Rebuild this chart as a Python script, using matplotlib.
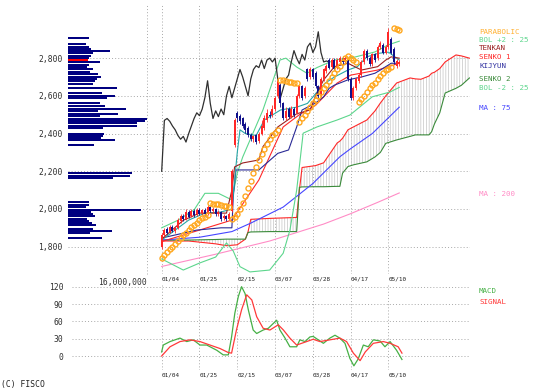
import numpy as np
import matplotlib
matplotlib.use("Agg")
import matplotlib.pyplot as plt

W, H = 547, 389
MONO = "DejaVu Sans Mono"

# ---- daily candles (index 0 = 01/04) ----
opens = [1800, 1860, 1895, 1875, 1905, 1885, 1900, 1935, 1965, 1945,
         1985, 1965, 1990, 1975, 1995, 1980, 1995, 1975, 2010, 1990,
         2000, 1975, 1985, 1950, 1965, 1945, 1990, 2340, 2510, 2495,
         2480, 2450, 2430, 2395, 2370, 2390, 2360, 2400, 2430, 2470,
         2500, 2500, 2530, 2600, 2660, 2560, 2480, 2530, 2490, 2530,
         2510, 2600, 2650, 2600, 2740, 2700, 2740, 2720, 2650, 2600,
         2690, 2730, 2790, 2755, 2790, 2750, 2780, 2800, 2780, 2790,
         2690, 2590, 2640, 2680, 2710, 2780, 2840, 2800, 2770, 2820,
         2800, 2860, 2870, 2830, 2860, 2900, 2850, 2760, 2770]
closes = [1860, 1890, 1875, 1905, 1885, 1900, 1940, 1965, 1945, 1985,
          1960, 1990, 1970, 1995, 1975, 1995, 1975, 2010, 1990, 2000,
          1975, 1985, 1945, 1965, 1945, 1975, 2200, 2470, 2480, 2465,
          2440, 2420, 2390, 2370, 2385, 2355, 2400, 2440, 2480, 2510,
          2495, 2530, 2590, 2680, 2560, 2480, 2520, 2490, 2530, 2500,
          2600, 2650, 2590, 2640, 2690, 2740, 2700, 2650, 2600, 2690,
          2740, 2760, 2750, 2790, 2745, 2790, 2800, 2780, 2800, 2690,
          2590, 2640, 2690, 2710, 2780, 2840, 2800, 2770, 2820, 2790,
          2860, 2880, 2830, 2860, 2940, 2830, 2780, 2785, 2780]
highs = [1870, 1900, 1905, 1915, 1915, 1910, 1950, 1975, 1975, 2000,
         1995, 2000, 2000, 2005, 2005, 2000, 2005, 2020, 2015, 2010,
         2005, 1995, 1990, 1975, 1970, 1985, 2210, 2480, 2520, 2505,
         2490, 2460, 2440, 2405, 2395, 2400, 2410, 2470, 2500, 2530,
         2520, 2550, 2600, 2690, 2670, 2570, 2540, 2540, 2545, 2540,
         2610, 2660, 2660, 2650, 2750, 2755, 2750, 2730, 2660, 2700,
         2750, 2770, 2800, 2800, 2800, 2800, 2810, 2810, 2810, 2795,
         2700, 2650, 2700, 2720, 2790, 2850, 2850, 2810, 2830, 2830,
         2870, 2890, 2880, 2870, 2960, 2910, 2860, 2795, 2790]
lows = [1790, 1850, 1865, 1870, 1880, 1875, 1895, 1925, 1935, 1940,
        1950, 1960, 1960, 1965, 1970, 1970, 1965, 1970, 1980, 1980,
        1965, 1965, 1935, 1940, 1935, 1940, 1985, 2330, 2460, 2450,
        2430, 2405, 2380, 2360, 2355, 2345, 2350, 2390, 2420, 2460,
        2480, 2490, 2520, 2590, 2540, 2470, 2470, 2480, 2485, 2490,
        2505, 2590, 2580, 2590, 2680, 2690, 2690, 2640, 2590, 2595,
        2680, 2720, 2740, 2750, 2735, 2740, 2770, 2770, 2770, 2680,
        2580, 2580, 2630, 2670, 2700, 2770, 2790, 2760, 2760, 2780,
        2790, 2850, 2820, 2820, 2850, 2820, 2770, 2750, 2760]

# ---- indicator lines (day index, price) ----
tenkan_i = [0, 8, 14, 24, 26, 27, 30, 36, 37.5, 43, 45, 50, 55, 57, 60, 64, 69, 74, 80, 83, 85, 88]
tenkan_v = [1840, 1940, 1978, 1978, 2100, 2223, 2244, 2260, 2330, 2435, 2455, 2505,
            2525, 2600, 2685, 2755, 2773, 2737, 2755, 2790, 2807, 2800]
kijun_i = [0, 5, 13, 22, 26, 26.5, 27.5, 36, 43, 47, 50, 52, 57, 60, 62, 64, 69, 74, 79, 81, 85, 88]
kijun_v = [1846, 1862, 1888, 1900, 1900, 2063, 2207, 2207, 2295, 2313, 2435, 2525,
           2562, 2595, 2640, 2657, 2685, 2700, 2720, 2737, 2773, 2773]
teal_i = [0, 10, 16, 22, 26, 27, 28, 29, 31, 35, 38, 44, 50, 54, 57.5, 60.6, 64, 69, 72.5, 76, 80, 84, 88]
teal_v = [1835, 1941, 1978, 1984, 2000, 2150, 2300, 2420, 2400, 2390, 2472, 2525,
          2540, 2560, 2620, 2668, 2700, 2737, 2755, 2807, 2825, 2832, 2790]
redb_i = [0, 14, 26, 36, 45, 51, 57, 65, 70, 80, 88]
redb_v = [1827, 1888, 1941, 2154, 2435, 2500, 2550, 2668, 2710, 2737, 2773]
bolu_i = [0, 6, 12, 16, 21, 26, 28, 30, 37.5, 43.8, 46, 50, 53.8, 57.5, 64, 71.6, 79, 83.8, 88]
bolu_v = [1900, 1940, 1995, 2083, 2083, 2048, 2190, 2275, 2525, 2790, 2800, 2753,
          2720, 2750, 2790, 2806, 2833, 2870, 2890]
bold_i = [0, 8, 14, 20, 24, 26.5, 29, 32.7, 40, 45, 47.5, 50, 52.4, 57.5, 65, 69.7, 78, 84.5, 88]
bold_v = [1735, 1676, 1713, 1745, 1820, 1777, 1694, 1666, 1676, 1765, 1888, 2100,
          2402, 2435, 2472, 2498, 2595, 2620, 2645]
ma75_i = [0, 14, 26, 33, 45, 56, 66, 70, 78, 88]
ma75_v = [1835, 1850, 1880, 1925, 2010, 2135, 2277, 2320, 2400, 2540]
ma200_i = [0, 20, 40, 60, 70, 80, 88]
ma200_v = [1695, 1760, 1830, 1920, 1975, 2035, 2085]

# leading spans (shared index grid)
span_i = [0, 10, 20, 24, 28, 31, 32, 33, 40, 50, 51, 52, 57, 60, 65, 66, 67, 69, 71, 76,
          79, 81, 83, 87, 92, 94, 96, 99, 100, 101, 103, 105, 109, 111, 114]
senkou1 = [1830, 1830, 1815, 1805, 1810, 1840, 1880, 1945, 1950, 1955, 2100, 2220, 2230,
           2245, 2350, 2360, 2375, 2420, 2435, 2472, 2520, 2562, 2600, 2668, 2695, 2690,
           2688, 2705, 2720, 2725, 2745, 2780, 2817, 2812, 2800]
senkou2 = [1835, 1835, 1838, 1840, 1840, 1840, 1875, 1878, 1880, 1880, 2115, 2117, 2118,
           2118, 2120, 2120, 2190, 2225, 2234, 2250, 2276, 2300, 2348, 2366, 2385, 2393,
           2393, 2393, 2410, 2450, 2510, 2615, 2640, 2656, 2695]

# parabolic SAR, one value per day
psar = [1740, 1755, 1770, 1785, 1800, 1815, 1830, 1845, 1860, 1875, 1890, 1903, 1915, 1928,
        1940, 1950, 1960, 1968,
        2030, 2028, 2026, 2024, 2021, 2018, 2015, 2012,
        1945, 1955, 1975, 2000, 2030, 2070, 2110, 2150, 2190, 2225, 2260, 2290, 2320, 2345,
        2370, 2390, 2405, 2420,
        2685, 2682, 2679, 2676, 2673, 2670, 2667,
        2460, 2480, 2500, 2520, 2540, 2560, 2580, 2600, 2620, 2640, 2660, 2680, 2700, 2720,
        2740, 2760, 2780, 2800,
        2810, 2800, 2790, 2780,
        2570, 2585, 2600, 2620, 2640, 2655, 2670, 2690, 2705, 2720, 2735, 2745, 2755,
        2960, 2955, 2950]

# volume by price (millions of shares)
vp_price = [2905, 2875, 2861, 2850, 2838, 2826, 2813, 2803, 2778, 2764, 2752, 2741, 2728, 2716,
            2702, 2690, 2677, 2665, 2643, 2617, 2600, 2587, 2561, 2546, 2532, 2520, 2506, 2493,
            2479, 2467, 2455, 2442, 2430, 2400, 2389, 2378, 2368, 2340, 2189, 2177, 2166, 2036,
            2023, 2011, 1996, 1984, 1973, 1963, 1949, 1938, 1927, 1915, 1895, 1885, 1873, 1848]
vp_vol = [4.3, 3.6, 4.2, 4.6, 8.5, 5.1, 4.6, 4.2, 6.5, 4.3, 3.9, 5.1, 4.4, 6.0, 6.8, 5.9, 5.5,
          5.1, 10.0, 7.0, 9.5, 7.9, 6.5, 7.5, 11.8, 6.1, 10.2, 6.5, 16.3, 15.7, 14.1, 14.0, 7.2,
          7.3, 7.1, 6.8, 9.5, 5.3, 13.0, 12.6, 9.2, 4.3, 4.3, 3.6, 14.8, 4.6, 5.1, 5.5, 3.9, 4.2,
          4.8, 5.7, 5.1, 8.9, 4.4, 7.0]
cur_price = 2790
cur_vol = 4.0

# MACD panel
macd_i = [0, 0.6, 3.1, 6.8, 9.3, 11.7, 14.2, 16.7, 20.4, 22.8, 24.7, 25.9, 27.1, 28.4, 29.6,
          30.9, 32.1, 33.9, 35.2, 37.6, 39.5, 42.6, 43.8, 45.7, 47.5, 50, 51.2, 53.1, 54.9,
          56.1, 59.9, 62.3, 64.2, 66, 67.9, 69.7, 71.2, 72.8, 74.7, 76.5, 78.4, 80.9, 82.7,
          84.6, 87, 89]
macd_v = [7, 19, 25, 31, 25, 28, 19, 19, 10, 2, 2, 33, 74, 103, 120, 108, 80, 45, 39, 45, 48,
          62, 45, 31, 16, 16, 28, 25, 33, 34, 22, 31, 36, 31, 22, -4, -17, -5, 19, 16, 28, 26,
          16, 25, 10, -6]
sig_i = [0, 3.1, 6.8, 10.5, 14.2, 17.9, 21.6, 24.7, 25.9, 27.7, 29.6, 31.5, 33.4, 35.2, 37.6,
         40.1, 43.2, 45.1, 47.5, 50, 53.7, 56.1, 58.6, 62.3, 66, 68.5, 71, 73.5, 75.4, 78.4,
         82.1, 84.6, 87.6, 89]
sig_v = [0, 16, 25, 28, 25, 19, 13, 6, 5, 45, 80, 106, 97, 68, 48, 45, 54, 45, 31, 19, 25, 29,
         25, 28, 31, 25, 5, -8, 7, 22, 25, 22, 16, 5]

date_idx = [0, 14, 28, 42, 56, 70, 84]
date_lbl = ["01/04", "01/25", "02/15", "03/07", "03/28", "04/17", "05/10"]
price_ticks = [1800, 2000, 2200, 2400, 2600, 2800]
macd_ticks = [0, 30, 60, 90, 120]

RED = "#ff2828"
NAVY = "#10108a"
BOL = "#5cd68c"
GRID = dict(color="#a8a8a8", lw=0.7, ls=(0, (1, 2.2)))


def rect(l, t, r, b):
    return [l / W, 1 - b / H, (r - l) / W, (b - t) / H]


def clean(a):
    for s in a.spines.values():
        s.set_visible(False)


fig = plt.figure(figsize=(W / 100, H / 100), dpi=100)

# ---- main price panel ----
ax = fig.add_axes(rect(68, 5, 470, 274))
clean(ax)
ax.set_xlim(-34.7, 114.2)
ax.set_ylim(1655, 3082)
for v in price_ticks:
    ax.axhline(v, zorder=0, **GRID)
for d in date_idx:
    ax.axvline(d, zorder=0, **GRID)
ax.set_yticks(price_ticks, [f"{v:,}" for v in price_ticks])
ax.set_xticks(date_idx, date_lbl)
ax.tick_params(axis="y", length=0, pad=4, labelsize=5.8, labelcolor="#303030")
ax.tick_params(axis="x", length=0, pad=1.5, labelsize=4.3, labelcolor="#202020")
for t in ax.get_yticklabels() + ax.get_xticklabels():
    t.set_family(MONO)
plt.setp(ax.get_xticklabels(), ha="left")

plt.rcParams["hatch.linewidth"] = 0.5
ax.fill_between(span_i, senkou1, senkou2, facecolor="none", edgecolor="#c4c4c4",
                hatch="||||||", linewidth=0, zorder=1)
ax.plot(span_i, senkou1, color=RED, lw=0.8, zorder=2)
ax.plot(span_i, senkou2, color="#3a8a3a", lw=0.8, zorder=2)
ax.plot(ma200_i, ma200_v, color="#ff8cc6", lw=0.8, zorder=2)
ax.plot(ma75_i, ma75_v, color="#4646ff", lw=0.8, zorder=2)
ax.plot(bolu_i, bolu_v, color=BOL, lw=0.8, zorder=2)
ax.plot(bold_i, bold_v, color=BOL, lw=0.8, zorder=2)
ax.plot(redb_i, redb_v, color=RED, lw=0.8, zorder=2)
ax.plot(kijun_i, kijun_v, color="#2a2a96", lw=0.8, zorder=3)
ax.plot(teal_i, teal_v, color="#26a6a6", lw=0.8, zorder=3)
ax.plot(tenkan_i, tenkan_v, color="#9a2020", lw=0.8, zorder=3)

idx = np.arange(len(closes))
o = np.array(opens)
c = np.array(closes)
ccol = np.where(c >= o, RED, NAVY)
ax.plot(idx[:-26], c[26:], color="#303030", lw=0.9, zorder=3)
ax.vlines(idx, lows, highs, colors=ccol, lw=0.6, zorder=4)
ax.bar(idx, np.maximum(np.abs(c - o), 5), bottom=np.minimum(o, c), width=0.75,
       color=ccol, zorder=4)
ax.plot(idx, psar, "o", mfc="none", mec="#ffa820", ms=3.6, mew=1.0, zorder=5)

# ---- volume by price ----
axh = fig.add_axes(rect(68, 5, 146.7, 274))
axh.patch.set_alpha(0)
axh.set_xlim(0, 16)
axh.set_ylim(1655, 3082)
axh.axis("off")
axh.barh(vp_price, vp_vol, height=10, color="#000080", zorder=3)
axh.barh([cur_price], [cur_vol], height=8, color="#ff0000", zorder=4)
axh.axvline(16, clip_on=False, zorder=0, **GRID)
fig.text(147 / W, 1 - 282 / H, "16,000,000", ha="right", va="center",
         fontsize=5.8, family=MONO, color="#303030")

# ---- MACD panel ----
am = fig.add_axes(rect(72, 283, 470, 370))
clean(am)
am.set_xlim(-33.2, 114.2)
am.set_ylim(-24.2, 126.4)
for v in macd_ticks:
    am.axhline(v, zorder=0, **GRID)
for d in date_idx:
    am.axvline(d, zorder=0, **GRID)
am.set_yticks(macd_ticks, [str(v) for v in macd_ticks])
am.set_xticks(date_idx, date_lbl)
am.tick_params(axis="y", length=0, pad=6, labelsize=5.8, labelcolor="#303030")
am.tick_params(axis="x", length=0, pad=1.5, labelsize=4.3, labelcolor="#202020")
for t in am.get_yticklabels() + am.get_xticklabels():
    t.set_family(MONO)
plt.setp(am.get_xticklabels(), ha="left")
am.plot(macd_i, macd_v, color="#46b046", lw=0.9)
am.plot(sig_i, sig_v, color="#ff3a3a", lw=0.9)

# ---- right-hand labels ----
labels = [("PARABOLIC", 31.5, "#ffb030"), ("BOL +2 : 25", 39.5, BOL),
          ("TENKAN", 48.5, "#9a2020"), ("SENKO 1", 57, RED), ("KIJYUN", 65.5, "#3030a0"),
          ("SENKO 2", 79, "#3a8a3a"), ("BOL -2 : 25", 88.5, BOL),
          ("MA : 75", 108, "#4646ff"), ("MA : 200", 194, "#ff8cc6"),
          ("MACD", 291, "#46b046"), ("SIGNAL", 302, "#ff3a3a")]
for txt, y, col in labels:
    fig.text(479 / W, 1 - y / H, txt, color=col, fontsize=5.4, family=MONO, va="center")

fig.text(1 / W, 1 - 384 / H, "(C) FISCO", fontsize=5.8, family=MONO, va="center",
         color="#202020")

fig.savefig("out.png", dpi=100)
